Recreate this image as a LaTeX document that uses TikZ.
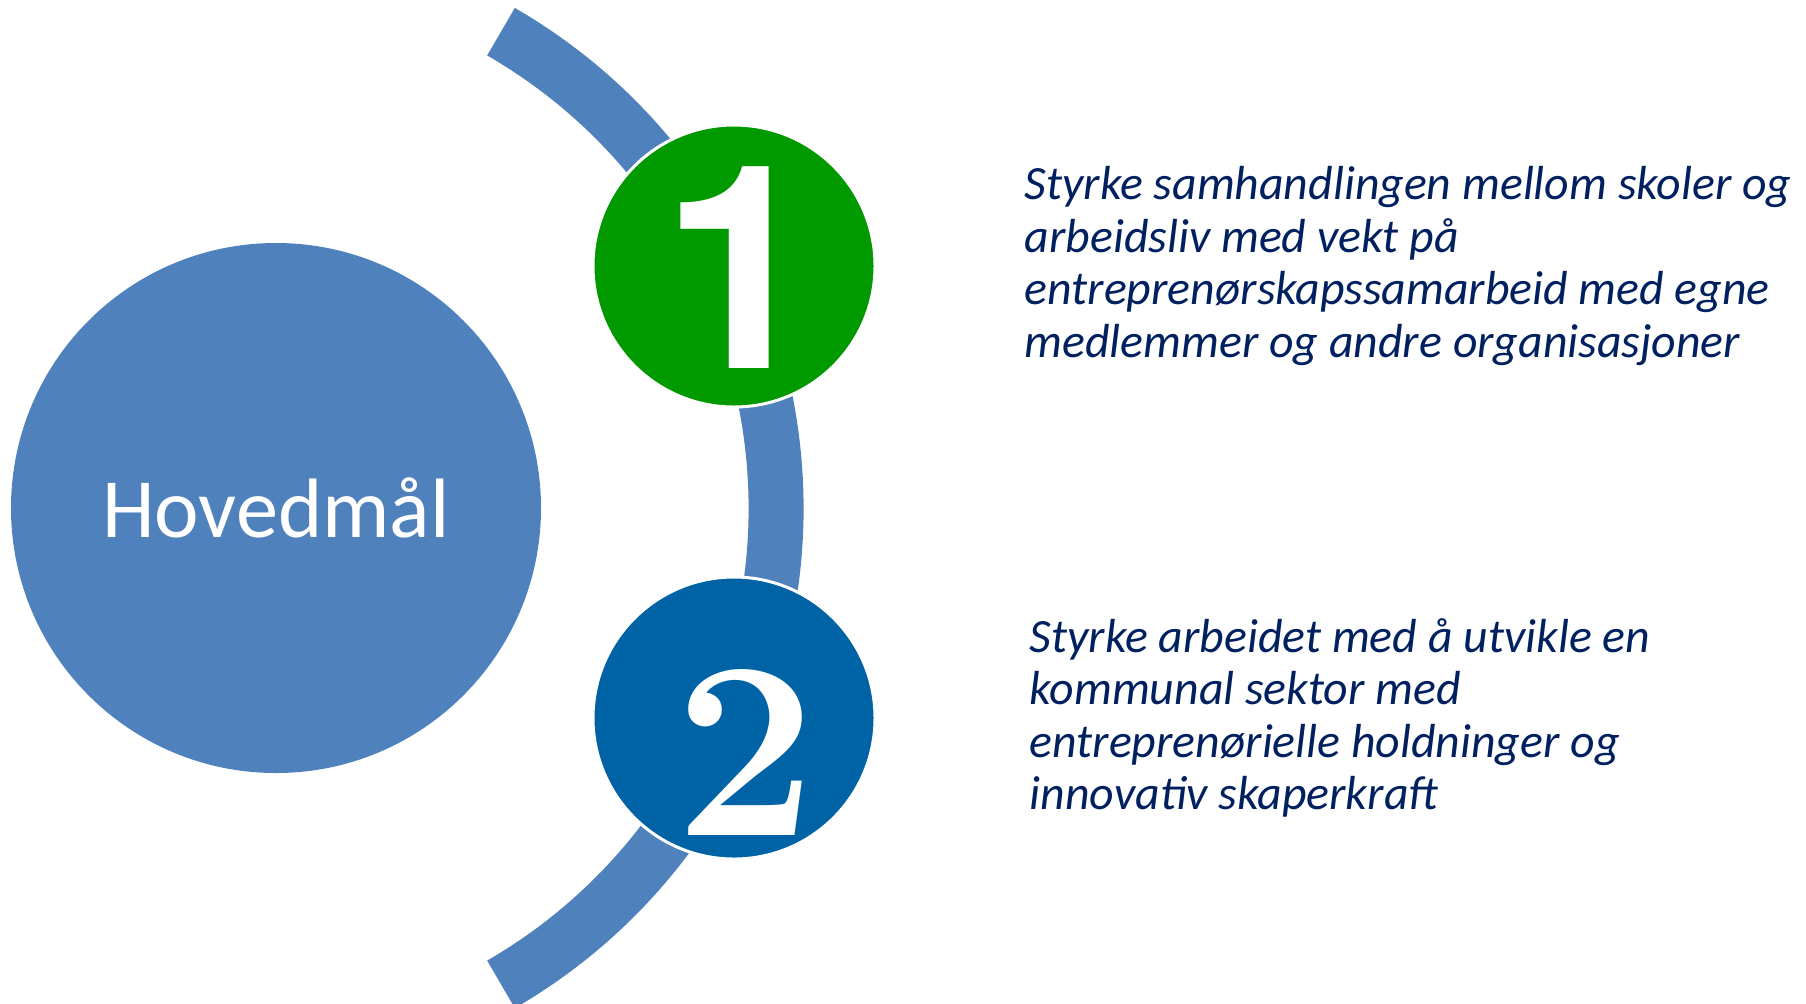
\documentclass[tikz,border=0pt]{standalone}
\usepackage{fontspec}
\setmainfont{Carlito}
\newfontfamily\herosfont{TeX Gyre Heros}
\newfontfamily\digitfont{Latin Modern Roman}
\definecolor{hovedblue}{RGB}{79,129,189}
\definecolor{numgreen}{RGB}{0,153,0}
\definecolor{numblue}{RGB}{0,99,166}
\definecolor{goaltext}{RGB}{0,32,96}
\begin{document}
\begin{tikzpicture}[x=0.1mm,y=-0.1mm,
  numcirc/.style={circle,draw=white,line width=0.3mm,minimum size=28.2mm,inner sep=0pt},
  goal/.style={anchor=west,align=left,inner sep=0pt,text=goaltext,font=\fontsize{13.6}{14.9}\selectfont\itshape}]
\useasboundingbox (0,0) rectangle (1806,1003);
\node[circle,fill=hovedblue,minimum size=53mm,inner sep=0pt,text=white,font=\fontsize{24}{28}\selectfont] (hm) at (276,508) {Hovedmål};

\coordinate (arcc) at (226,508);
\draw[hovedblue,line width=5.5mm] (arcc) ++(60:55mm) arc[start angle=60,end angle=-60,radius=55mm];

\node[numcirc,fill=numgreen] (n1) at (734,266) {};
\node[inner sep=0pt,text=white] (d1) at (741,268) {\herosfont\bfseries\fontsize{81}{81}\selectfont 1};
\node[goal] (g1) at (1024,266) {Styrke samhandlingen mellom skoler og\\arbeidsliv med vekt på\\entreprenørskapssamarbeid med egne\\medlemmer og andre organisasjoner};

\node[numcirc,fill=numblue] (n2) at (734,718) {};
\node[inner sep=0pt,text=white] (d2) at (746,752) {\digitfont\bfseries\fontsize{72}{72}\selectfont 2};
\node[goal] (g2) at (1029,718) {Styrke arbeidet med å utvikle en\\kommunal sektor med\\entreprenørielle holdninger og\\innovativ skaperkraft};
\end{tikzpicture}
\end{document}
